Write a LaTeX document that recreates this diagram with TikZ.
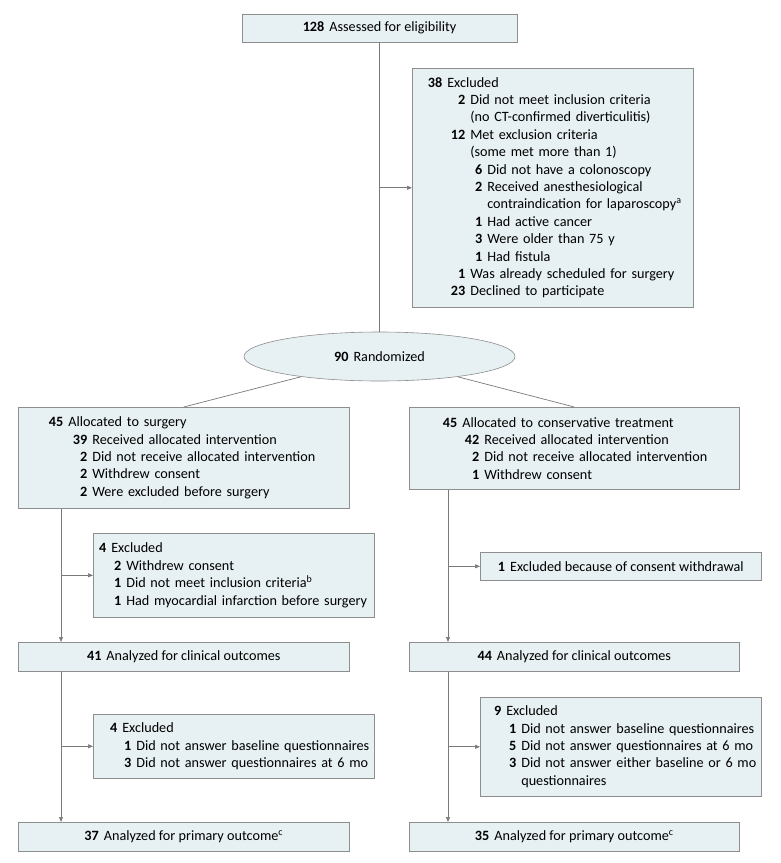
\documentclass[tikz,border=0pt]{standalone}
\usepackage{fontspec}
\setmainfont{Carlito}
\usetikzlibrary{arrows.meta, shapes.geometric}
\definecolor{fcfill}{HTML}{E7F0F2}
\definecolor{fcedge}{HTML}{8E8E8E}
\definecolor{fcline}{HTML}{7A7A7A}
\newcommand{\fcrow}[3]{\mbox{\makebox[#1][r]{\bfseries #2}\hspace{5pt}#3}}
\newcommand{\fcwrap}[2]{\mbox{\hspace*{#1}\hspace*{5pt}#2}}

\begin{document}
\begin{tikzpicture}[x=1pt, y=-1pt,
    every node/.style={font=\fontsize{14.2}{17.4}\selectfont},
    box/.style={draw=fcedge, fill=fcfill, line width=0.6pt, inner xsep=4pt, inner ysep=0pt, minimum height=28pt},
    listbox/.style={box, align=left, text width=#1, anchor=north west},
    link/.style={draw=fcline, line width=0.7pt},
    arr/.style={link, -{Triangle[length=5pt, width=4pt]}}]
  \useasboundingbox (0,0) rectangle (780,863);

  % enrollment
  \node[box, minimum width=275pt] (assess) at (379.5,28) {\textbf{128}\hspace{5pt}Assessed for eligibility};
  \node[listbox=273pt, minimum height=239pt] (excl) at (412,68) {%
    \fcrow{26pt}{38}{Excluded}\\
    \fcrow{49pt}{2}{Did not meet inclusion criteria}\\
    \fcwrap{49pt}{(no CT-confirmed diverticulitis)}\\
    \fcrow{49pt}{12}{Met exclusion criteria}\\
    \fcwrap{49pt}{(some met more than 1)}\\
    \fcrow{66pt}{6}{Did not have a colonoscopy}\\
    \fcrow{66pt}{2}{Received anesthesiological}\\
    \fcwrap{66pt}{contraindication for laparoscopy\textsuperscript{a}}\\
    \fcrow{66pt}{1}{Had active cancer}\\
    \fcrow{66pt}{3}{Were older than 75 y}\\
    \fcrow{66pt}{1}{Had fistula}\\
    \fcrow{49pt}{1}{Was already scheduled for surgery}\\
    \fcrow{49pt}{23}{Declined to participate}};
  \node[ellipse, draw=fcedge, fill=fcfill, line width=0.6pt, minimum width=271pt, minimum height=49pt,
        inner sep=0pt] (rand) at (379.5,356.5) {\textbf{90}\hspace{5pt}Randomized};

  % allocation
  \node[listbox=323pt, minimum height=101pt] (lalloc) at (18,407) {%
    \fcrow{41pt}{45}{Allocated to surgery}\\
    \fcrow{65pt}{39}{Received allocated intervention}\\
    \fcrow{65pt}{2}{Did not receive allocated intervention}\\
    \fcrow{65pt}{2}{Withdrew consent}\\
    \fcrow{65pt}{2}{Were excluded before surgery}};
  \node[listbox=322pt, minimum height=82pt] (ralloc) at (409,407) {%
    \fcrow{44pt}{45}{Allocated to conservative treatment}\\
    \fcrow{66pt}{42}{Received allocated intervention}\\
    \fcrow{66pt}{2}{Did not receive allocated intervention}\\
    \fcrow{66pt}{1}{Withdrew consent}};

  % clinical outcomes
  \node[listbox=273pt, minimum height=84pt] (lex1) at (93,533) {%
    \fcrow{9pt}{4}{Excluded}\\
    \fcrow{24pt}{2}{Withdrew consent}\\
    \fcrow{24pt}{1}{Did not meet inclusion criteria\textsuperscript{b}}\\
    \fcrow{24pt}{1}{Had myocardial infarction before surgery}};
  \node[box, minimum width=281pt, anchor=north west] (rex1) at (480,552) {\textbf{1}\hspace{5pt}Excluded because of consent withdrawal};
  \node[box, minimum width=331pt, minimum height=29pt, anchor=north west] (lanal) at (18,642) {\textbf{41}\hspace{5pt}Analyzed for clinical outcomes};
  \node[box, minimum width=330pt, minimum height=29pt, anchor=north west] (ranal) at (409,642) {\textbf{44}\hspace{5pt}Analyzed for clinical outcomes};

  % primary outcome
  \node[listbox=273pt, minimum height=64pt] (lex2) at (93,714) {%
    \fcrow{20pt}{4}{Excluded}\\
    \fcrow{34pt}{1}{Did not answer baseline questionnaires}\\
    \fcrow{34pt}{3}{Did not answer questionnaires at 6 mo}};
  \node[listbox=273pt, minimum height=99pt] (rex2) at (480,697) {%
    \fcrow{17pt}{9}{Excluded}\\
    \fcrow{32pt}{1}{Did not answer baseline questionnaires}\\
    \fcrow{32pt}{5}{Did not answer questionnaires at 6 mo}\\
    \fcrow{32pt}{3}{Did not answer either baseline or 6 mo}\\
    \fcwrap{32pt}{questionnaires}};
  \node[box, minimum width=331pt, minimum height=29pt, anchor=north west] (lprim) at (18,822) {\textbf{37}\hspace{5pt}Analyzed for primary outcome\textsuperscript{c}};
  \node[box, minimum width=330pt, minimum height=29pt, anchor=north west] (rprim) at (409,822) {\textbf{35}\hspace{5pt}Analyzed for primary outcome\textsuperscript{c}};

  \coordinate (ltrunk) at (61,0);
  \coordinate (rtrunk) at (448,0);

  % connectors
  \draw[link] (assess) -- (rand);
  \draw[arr] (assess.south |- excl.west) -- (excl.west);
  \draw[link] (rand) -- (lalloc.north);
  \draw[link] (rand) -- (ralloc.north);
  \draw[arr] (lalloc.south -| ltrunk) -- (lanal.north -| ltrunk);
  \draw[arr] (ltrunk |- lex1.west) -- (lex1.west);
  \draw[arr] (lanal.south -| ltrunk) -- (lprim.north -| ltrunk);
  \draw[arr] (ltrunk |- lex2.west) -- (lex2.west);
  \draw[arr] (ralloc.south -| rtrunk) -- (ranal.north -| rtrunk);
  \draw[arr] (rtrunk |- rex1.west) -- (rex1.west);
  \draw[arr] (ranal.south -| rtrunk) -- (rprim.north -| rtrunk);
  \draw[arr] (rtrunk |- rex2.west) -- (rex2.west);
\end{tikzpicture}
\end{document}
